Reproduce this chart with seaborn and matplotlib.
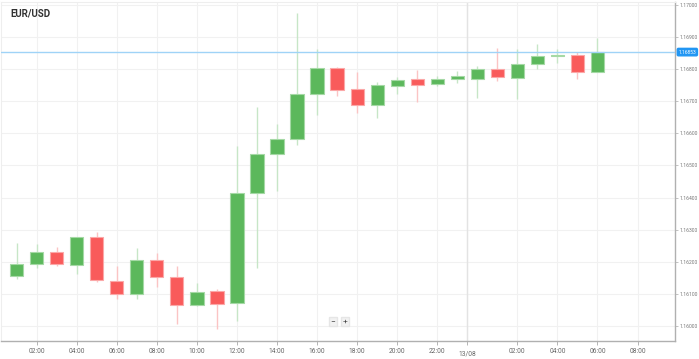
import numpy as np
import pandas as pd
import matplotlib
matplotlib.use("Agg")
import matplotlib.pyplot as plt
import seaborn as sns

# Hourly EUR/USD candles, hours counted from 12/08 00:00
hours = list(range(1, 31))
opens = [1.16154, 1.16193, 1.16231, 1.16189, 1.16276, 1.16141, 1.16099, 1.16206, 1.16152, 1.16065,
         1.16109, 1.16071, 1.16413, 1.16534, 1.16582, 1.16722, 1.16803, 1.16737, 1.16688, 1.16748,
         1.16768, 1.16754, 1.16769, 1.16769, 1.16801, 1.16772, 1.16816, 1.16840, 1.16843, 1.16791]
highs = [1.16258, 1.16255, 1.16245, 1.16278, 1.16294, 1.16186, 1.16243, 1.16227, 1.16186, 1.16134,
         1.16114, 1.16561, 1.16683, 1.16629, 1.16976, 1.16862, 1.16808, 1.16790, 1.16760, 1.16775,
         1.16798, 1.16779, 1.16794, 1.16810, 1.16865, 1.16862, 1.16879, 1.16863, 1.16854, 1.16898]
lows = [1.16146, 1.16180, 1.16188, 1.16161, 1.16136, 1.16084, 1.16084, 1.16121, 1.16007, 1.16061,
        1.15990, 1.16016, 1.16180, 1.16421, 1.16564, 1.16658, 1.16716, 1.16664, 1.16648, 1.16722,
        1.16698, 1.16748, 1.16758, 1.16710, 1.16764, 1.16707, 1.16800, 1.16820, 1.16769, 1.16791]
closes = [1.16194, 1.16231, 1.16193, 1.16276, 1.16142, 1.16099, 1.16205, 1.16152, 1.16065, 1.16107,
          1.16069, 1.16415, 1.16535, 1.16583, 1.16721, 1.16803, 1.16736, 1.16688, 1.16749, 1.16766,
          1.16751, 1.16769, 1.16779, 1.16800, 1.16774, 1.16816, 1.16840, 1.16844, 1.16791, 1.16853]
current_price = 1.16853

tick_hours = [2, 4, 6, 8, 10, 12, 14, 16, 18, 20, 22, 23.5, 26, 28, 30, 32]
tick_labels = ["02:00", "04:00", "06:00", "08:00", "10:00", "12:00", "14:00", "16:00",
               "18:00", "20:00", "22:00", "", "02:00", "04:00", "06:00", "08:00"]
date_hour, date_label = 23.5, "13/08"
price_ticks = [1.160, 1.161, 1.162, 1.163, 1.164, 1.165, 1.166, 1.167, 1.168, 1.169, 1.170]

df = pd.DataFrame({"hour": hours, "open": opens, "high": highs, "low": lows, "close": closes})
df["up"] = df["close"] >= df["open"]

sns.set_theme(style="white")
plt.rcParams["font.family"] = ["Roboto", "DejaVu Sans"]

fig = plt.figure(figsize=(6.99, 3.59), dpi=100)
ax = fig.add_axes([1 / 699, 18 / 359, 674 / 699, 339 / 359])

green, red = "#5cb85c", "#f95b5b"
green_edge, red_edge = "#a5d9a5", "#fba8a8"
green_wick, red_wick = "#c7e6c7", "#fbc4c4"

for up, body_c, edge_c, wick_c in [(True, green, green_edge, green_wick), (False, red, red_edge, red_wick)]:
    sub = df[df["up"] == up]
    ax.vlines(sub["hour"], sub["low"], sub["high"], color=wick_c, linewidth=1.0, zorder=2)
    bottom = sub[["open", "close"]].min(axis=1)
    height = (sub["close"] - sub["open"]).abs().clip(lower=0.00004)
    ax.bar(sub["hour"], height, bottom=bottom, width=0.66, color=body_c,
           edgecolor=edge_c, linewidth=0.8, zorder=3)

ax.axhline(current_price, color="#9fd3f7", linewidth=1.0, zorder=4)

ax.set_xlim(0.22, 33.87)
ax.set_ylim(1.15953, 1.17009)

ax.set_xticks(tick_hours)
ax.set_xticklabels(tick_labels)
ax.set_yticks(price_ticks)
ax.set_yticklabels([f"{p:.5f}" for p in price_ticks])
ax.yaxis.tick_right()

ax.grid(True, color="#f1f1f1", linewidth=0.8, zorder=0)
ax.axvline(date_hour, color="#e3e3e3", linewidth=1.0, zorder=1)
ax.tick_params(axis="x", labelsize=4.8, colors="#666666", length=3, width=0.6, pad=2,
               color="#aaaaaa", direction="out", bottom=True)
ax.tick_params(axis="y", labelsize=3.6, colors="#777777", length=2, width=0.5, pad=1,
               color="#aaaaaa", direction="out", right=True, left=False)

ax.annotate(date_label, xy=(date_hour, 0), xycoords=("data", "axes fraction"),
            xytext=(0, -9), textcoords="offset points", fontsize=4.8, color="#666666",
            ha="center", va="center", annotation_clip=False)

for side in ["left", "top"]:
    ax.spines[side].set_color("#eeeeee")
    ax.spines[side].set_linewidth(0.8)
for side in ["right", "bottom"]:
    ax.spines[side].set_color("#b0b0b0")
    ax.spines[side].set_linewidth(1.0)

ax.text(0.014, 0.967, "EUR/USD", transform=ax.transAxes, fontsize=7, fontweight="bold",
        color="#333333", ha="left", va="center")

# current price tag on the right axis
ax.annotate(f"{current_price:.5f}", xy=(1.0, current_price), xycoords=("axes fraction", "data"),
            xytext=(2.5, 0), textcoords="offset points", fontsize=3.5, color="white",
            ha="left", va="center",
            bbox=dict(boxstyle="round,pad=0.25", fc="#2196f3", ec="#2196f3"))

# zoom buttons
for xf, s in [(0.492, "\u2212"), (0.511, "+")]:
    ax.text(xf, 0.058, s, transform=ax.transAxes, fontsize=6, color="#444444", ha="center",
            va="center", bbox=dict(boxstyle="square,pad=0.2", fc="#f2f2f2", ec="#e6e6e6"))

fig.savefig("out.png", dpi=100)
